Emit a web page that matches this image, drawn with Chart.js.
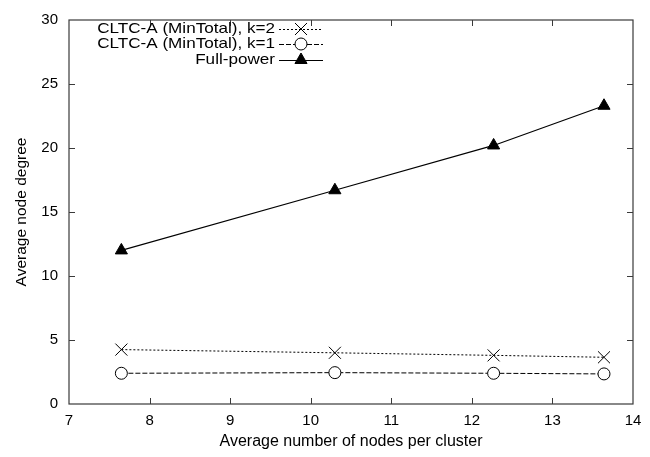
<!DOCTYPE html>
<html>
<head>
<meta charset="utf-8">
<script src="https://cdn.jsdelivr.net/npm/chart.js@4"></script>
<style>
  html, body { margin: 0; padding: 0; background: #fff; }
  #wrap { width: 650px; height: 457px; }
</style>
</head>
<body>
<div id="wrap"><canvas id="chart"></canvas></div>
<script>
// values
const nodesPerCluster = [7.65, 10.30, 12.27, 13.64];
const degreeK2 = [4.25, 4.0, 3.8, 3.65];
const degreeK1 = [2.4, 2.45, 2.4, 2.35];
const degreeFullPower = [12.0, 16.7, 20.2, 23.3];
const seriesLabels = ['CLTC-A (MinTotal), k=2', 'CLTC-A (MinTotal), k=1', 'Full-power'];
const xTicks = [7, 8, 9, 10, 11, 12, 13, 14];
const yTicks = [0, 5, 10, 15, 20, 25, 30];

const FONT = 'Liberation Sans, Arial, Helvetica, sans-serif';

function toPoints(ys) {
  return nodesPerCluster.map((x, i) => ({ x: x, y: ys[i] }));
}

// legend marker, same look as in the plot
function marker(ctx, ds, x, y) {
  ctx.save();
  ctx.strokeStyle = '#000';
  ctx.fillStyle = ds.pointBackgroundColor;
  ctx.lineWidth = 1;
  ctx.setLineDash([]);
  Chart.helpers.drawPoint(ctx, {
    pointStyle: ds.pointStyle,
    radius: ds.pointRadius,
    rotation: 0,
    borderWidth: 1
  }, x, y);
  ctx.restore();
}

// frame, inward ticks, legend
const framePlugin = {
  id: 'frame',
  afterDatasetsDraw(chart) {
    const { ctx, chartArea: a, scales } = chart;
    ctx.save();
    ctx.strokeStyle = '#3a3a3a';
    ctx.lineWidth = 1.2;
    ctx.strokeRect(a.left, a.top, a.right - a.left, a.bottom - a.top);
    ctx.lineWidth = 1;
    ctx.beginPath();
    const t = 6;
    xTicks.slice(1, -1).forEach(v => {
      const px = Math.round(scales.x.getPixelForValue(v)) + 0.5;
      ctx.moveTo(px, a.bottom); ctx.lineTo(px, a.bottom - t);
      ctx.moveTo(px, a.top); ctx.lineTo(px, a.top + t);
    });
    yTicks.slice(1, -1).forEach(v => {
      const py = Math.round(scales.y.getPixelForValue(v)) + 0.5;
      ctx.moveTo(a.left, py); ctx.lineTo(a.left + t, py);
      ctx.moveTo(a.right, py); ctx.lineTo(a.right - t, py);
    });
    ctx.stroke();

    // legend: right-aligned text (a bit wide, like the original), sample line + marker
    const rows = [29, 44, 60];
    ctx.fillStyle = '#000';
    chart.data.datasets.forEach((ds, i) => {
      const y = rows[i];
      ctx.save();
      ctx.translate(275, y);
      ctx.scale(1.14, 1);
      ctx.font = '15px ' + FONT;
      ctx.textAlign = 'right';
      ctx.textBaseline = 'middle';
      ctx.fillText(ds.label, 0, 0);
      ctx.restore();
      ctx.save();
      ctx.strokeStyle = '#000';
      ctx.lineWidth = 1;
      ctx.setLineDash(ds.borderDash || []);
      ctx.beginPath();
      ctx.moveTo(279, y + 0.5);
      ctx.lineTo(323, y + 0.5);
      ctx.stroke();
      ctx.restore();
      marker(ctx, ds, 301, y);
    });
    ctx.restore();
  }
};

new Chart(document.getElementById('chart'), {
  type: 'line',
  data: {
    datasets: [
      {
        label: seriesLabels[0],
        data: toPoints(degreeK2),
        borderColor: '#000',
        borderWidth: 1,
        borderDash: [2, 2],
        pointStyle: 'crossRot',
        pointRadius: 8.5,
        pointBorderColor: '#000',
        pointBackgroundColor: '#fff',
        pointBorderWidth: 1
      },
      {
        label: seriesLabels[1],
        data: toPoints(degreeK1),
        borderColor: '#000',
        borderWidth: 1,
        borderDash: [5, 2],
        pointStyle: 'circle',
        pointRadius: 6,
        pointBorderColor: '#000',
        pointBackgroundColor: '#fff',
        pointBorderWidth: 1
      },
      {
        label: seriesLabels[2],
        data: toPoints(degreeFullPower),
        borderColor: '#000',
        borderWidth: 1.2,
        pointStyle: 'triangle',
        pointRadius: 7,
        pointBorderColor: '#000',
        pointBackgroundColor: '#000',
        pointBorderWidth: 1
      }
    ]
  },
  options: {
    responsive: true,
    maintainAspectRatio: false,
    animation: false,
    layout: { padding: { top: 15, right: 17, left: 0, bottom: 0 } },
    plugins: {
      legend: { display: false },
      tooltip: { enabled: false }
    },
    scales: {
      x: {
        type: 'linear',
        min: 7,
        max: 14,
        afterFit(scale) { scale.height = 53; },
        afterBuildTicks(scale) { scale.ticks = xTicks.map(v => ({ value: v })); },
        grid: { display: false, drawTicks: false },
        border: { display: false },
        ticks: { color: '#000', padding: 8, font: { family: FONT, size: 15 } },
        title: {
          display: true,
          text: 'Average number of nodes per cluster',
          color: '#000',
          font: { family: FONT, size: 16 },
          padding: { top: 0, bottom: 6 }
        }
      },
      y: {
        min: 0,
        max: 30,
        afterFit(scale) { scale.width = 69; },
        afterBuildTicks(scale) { scale.ticks = yTicks.map(v => ({ value: v })); },
        grid: { display: false, drawTicks: false },
        border: { display: false },
        ticks: { color: '#000', padding: 11, font: { family: FONT, size: 15 } },
        title: {
          display: true,
          text: 'Average node degree',
          color: '#000',
          font: { family: FONT, size: 15.5 },
          padding: { top: 12, bottom: 0 }
        }
      }
    }
  },
  plugins: [framePlugin]
});
</script>
</body>
</html>
